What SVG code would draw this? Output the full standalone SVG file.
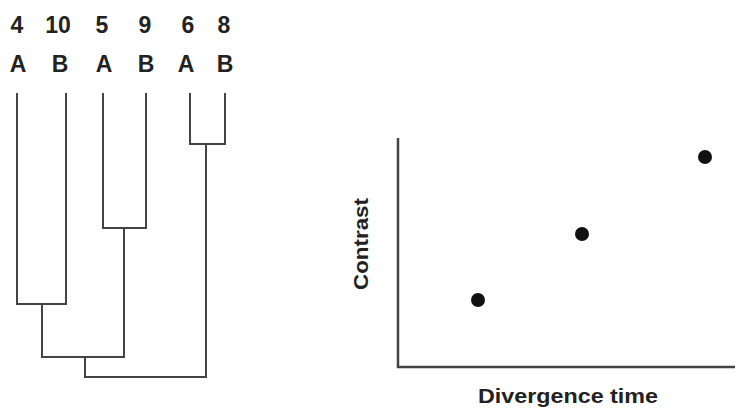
<svg xmlns="http://www.w3.org/2000/svg" width="735" height="409" viewBox="0 0 735 409">
<style>
.lbl{font-family:"Liberation Sans",Arial,sans-serif;font-weight:bold;font-size:23px;fill:#222;text-anchor:middle}
.ax{font-family:"Liberation Sans",Arial,sans-serif;font-weight:bold;font-size:20px;fill:#222;text-anchor:middle}
.br{fill:none;stroke:#444;stroke-width:2;stroke-linecap:square}
.axis{fill:none;stroke:#444;stroke-width:2.5}
.pt{fill:#111}
</style>
<rect width="735" height="409" fill="#fff"/>
<g id="labels">
<text class="lbl" x="17" y="33">4</text>
<text class="lbl" x="58" y="33">10</text>
<text class="lbl" x="102" y="33">5</text>
<text class="lbl" x="145" y="33">9</text>
<text class="lbl" x="188" y="33">6</text>
<text class="lbl" x="224" y="33">8</text>
<text class="lbl" x="18" y="72">A</text>
<text class="lbl" x="60" y="72">B</text>
<text class="lbl" x="104" y="72">A</text>
<text class="lbl" x="146" y="72">B</text>
<text class="lbl" x="186" y="72">A</text>
<text class="lbl" x="225" y="72">B</text>
</g>
<g id="tree">
<path class="br" d="M17 94 V304 H66 V94"/>
<path class="br" d="M103 94 V228 H146 V94"/>
<path class="br" d="M190 94 V144 H225 V94"/>
<path class="br" d="M42 304 V357 H124 V228"/>
<path class="br" d="M85 357 V377 H206 V144"/>
</g>
<g id="plot">
<path class="axis" d="M398 138 V367 H735"/>
<circle class="pt" cx="478" cy="300" r="7"/>
<circle class="pt" cx="582" cy="234" r="7"/>
<circle class="pt" cx="705" cy="157" r="7"/>
<text class="ax" x="0" y="0" transform="translate(368 244) rotate(-90)" textLength="92" lengthAdjust="spacingAndGlyphs">Contrast</text>
<text class="ax" x="568" y="403" textLength="180" lengthAdjust="spacingAndGlyphs">Divergence time</text>
</g>
</svg>
